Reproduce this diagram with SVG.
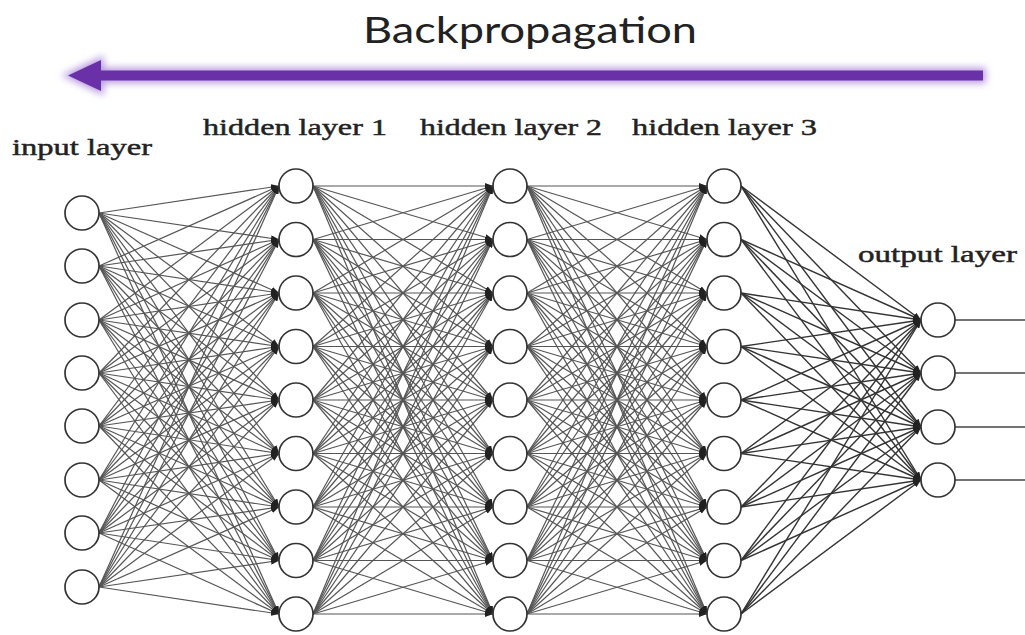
<svg xmlns="http://www.w3.org/2000/svg" width="1025" height="635" viewBox="0 0 1025 635">
<defs>
<marker id="ah" markerUnits="userSpaceOnUse" markerWidth="8" markerHeight="6" refX="8" refY="3" orient="auto">
<path d="M0,0 L8,3 L0,6 z" fill="#222"/>
</marker>
<filter id="glow" x="-5%" y="-80%" width="110%" height="260%">
<feGaussianBlur stdDeviation="3.5"/>
</filter>
<style>
.e path{stroke:#555;stroke-width:1.2;fill:none;marker-end:url(#ah)}
.e4 path{stroke:#333;stroke-width:1.4}
.n circle{fill:#fff;stroke:#333;stroke-width:1.7}
.lbl{font-family:"Liberation Serif","Times New Roman",serif;font-size:24px;fill:#222;stroke:#222;stroke-width:0.45}
.title{font-family:"Lato","Open Sans",sans-serif;font-size:36px;fill:#222}
.out{stroke:#444;stroke-width:1.4}
</style>
</defs>
<rect width="1025" height="635" fill="#fff"/>
<text class="title" x="363" y="43" textLength="334" lengthAdjust="spacingAndGlyphs">Backpropagation</text>
<g id="backprop-arrow">
<path d="M68 75.5 L101 60 L101 70.5 L983 70.5 L983 80.5 L101 80.5 L101 91 Z" fill="#a07cd0" stroke="#c0a4e4" stroke-width="6" filter="url(#glow)"/>
<path d="M68 75.5 L101 60 L101 70.5 L983 70.5 L983 80.5 L101 80.5 L101 91 Z" fill="#6a30a8"/>
</g>
<text class="lbl" x="12" y="155" textLength="140" lengthAdjust="spacingAndGlyphs">input layer</text>
<text class="lbl" x="203" y="135" textLength="184" lengthAdjust="spacingAndGlyphs">hidden layer 1</text>
<text class="lbl" x="420" y="135" textLength="182" lengthAdjust="spacingAndGlyphs">hidden layer 2</text>
<text class="lbl" x="632" y="135" textLength="185" lengthAdjust="spacingAndGlyphs">hidden layer 3</text>
<text class="lbl" x="858" y="262" textLength="159" lengthAdjust="spacingAndGlyphs">output layer</text>
<g id="connectors">
<g class="e">
<path d="M99 213L279 186"/><path d="M99 213L279 239.5"/><path d="M99 213L279 293"/><path d="M99 213L279 346.5"/><path d="M99 213L279 400"/><path d="M99 213L279 453.5"/><path d="M99 213L279 507"/><path d="M99 213L279 560.5"/><path d="M99 213L279 614"/>
<path d="M99 266L279 186"/><path d="M99 266L279 239.5"/><path d="M99 266L279 293"/><path d="M99 266L279 346.5"/><path d="M99 266L279 400"/><path d="M99 266L279 453.5"/><path d="M99 266L279 507"/><path d="M99 266L279 560.5"/><path d="M99 266L279 614"/>
<path d="M99 320L279 186"/><path d="M99 320L279 239.5"/><path d="M99 320L279 293"/><path d="M99 320L279 346.5"/><path d="M99 320L279 400"/><path d="M99 320L279 453.5"/><path d="M99 320L279 507"/><path d="M99 320L279 560.5"/><path d="M99 320L279 614"/>
<path d="M99 373L279 186"/><path d="M99 373L279 239.5"/><path d="M99 373L279 293"/><path d="M99 373L279 346.5"/><path d="M99 373L279 400"/><path d="M99 373L279 453.5"/><path d="M99 373L279 507"/><path d="M99 373L279 560.5"/><path d="M99 373L279 614"/>
<path d="M99 426L279 186"/><path d="M99 426L279 239.5"/><path d="M99 426L279 293"/><path d="M99 426L279 346.5"/><path d="M99 426L279 400"/><path d="M99 426L279 453.5"/><path d="M99 426L279 507"/><path d="M99 426L279 560.5"/><path d="M99 426L279 614"/>
<path d="M99 480L279 186"/><path d="M99 480L279 239.5"/><path d="M99 480L279 293"/><path d="M99 480L279 346.5"/><path d="M99 480L279 400"/><path d="M99 480L279 453.5"/><path d="M99 480L279 507"/><path d="M99 480L279 560.5"/><path d="M99 480L279 614"/>
<path d="M99 533L279 186"/><path d="M99 533L279 239.5"/><path d="M99 533L279 293"/><path d="M99 533L279 346.5"/><path d="M99 533L279 400"/><path d="M99 533L279 453.5"/><path d="M99 533L279 507"/><path d="M99 533L279 560.5"/><path d="M99 533L279 614"/>
<path d="M99 587L279 186"/><path d="M99 587L279 239.5"/><path d="M99 587L279 293"/><path d="M99 587L279 346.5"/><path d="M99 587L279 400"/><path d="M99 587L279 453.5"/><path d="M99 587L279 507"/><path d="M99 587L279 560.5"/><path d="M99 587L279 614"/>
</g>
<g class="e">
<path d="M313 186L493 186"/><path d="M313 186L493 239.5"/><path d="M313 186L493 293"/><path d="M313 186L493 346.5"/><path d="M313 186L493 400"/><path d="M313 186L493 453.5"/><path d="M313 186L493 507"/><path d="M313 186L493 560.5"/><path d="M313 186L493 614"/>
<path d="M313 239.5L493 186"/><path d="M313 239.5L493 239.5"/><path d="M313 239.5L493 293"/><path d="M313 239.5L493 346.5"/><path d="M313 239.5L493 400"/><path d="M313 239.5L493 453.5"/><path d="M313 239.5L493 507"/><path d="M313 239.5L493 560.5"/><path d="M313 239.5L493 614"/>
<path d="M313 293L493 186"/><path d="M313 293L493 239.5"/><path d="M313 293L493 293"/><path d="M313 293L493 346.5"/><path d="M313 293L493 400"/><path d="M313 293L493 453.5"/><path d="M313 293L493 507"/><path d="M313 293L493 560.5"/><path d="M313 293L493 614"/>
<path d="M313 346.5L493 186"/><path d="M313 346.5L493 239.5"/><path d="M313 346.5L493 293"/><path d="M313 346.5L493 346.5"/><path d="M313 346.5L493 400"/><path d="M313 346.5L493 453.5"/><path d="M313 346.5L493 507"/><path d="M313 346.5L493 560.5"/><path d="M313 346.5L493 614"/>
<path d="M313 400L493 186"/><path d="M313 400L493 239.5"/><path d="M313 400L493 293"/><path d="M313 400L493 346.5"/><path d="M313 400L493 400"/><path d="M313 400L493 453.5"/><path d="M313 400L493 507"/><path d="M313 400L493 560.5"/><path d="M313 400L493 614"/>
<path d="M313 453.5L493 186"/><path d="M313 453.5L493 239.5"/><path d="M313 453.5L493 293"/><path d="M313 453.5L493 346.5"/><path d="M313 453.5L493 400"/><path d="M313 453.5L493 453.5"/><path d="M313 453.5L493 507"/><path d="M313 453.5L493 560.5"/><path d="M313 453.5L493 614"/>
<path d="M313 507L493 186"/><path d="M313 507L493 239.5"/><path d="M313 507L493 293"/><path d="M313 507L493 346.5"/><path d="M313 507L493 400"/><path d="M313 507L493 453.5"/><path d="M313 507L493 507"/><path d="M313 507L493 560.5"/><path d="M313 507L493 614"/>
<path d="M313 560.5L493 186"/><path d="M313 560.5L493 239.5"/><path d="M313 560.5L493 293"/><path d="M313 560.5L493 346.5"/><path d="M313 560.5L493 400"/><path d="M313 560.5L493 453.5"/><path d="M313 560.5L493 507"/><path d="M313 560.5L493 560.5"/><path d="M313 560.5L493 614"/>
<path d="M313 614L493 186"/><path d="M313 614L493 239.5"/><path d="M313 614L493 293"/><path d="M313 614L493 346.5"/><path d="M313 614L493 400"/><path d="M313 614L493 453.5"/><path d="M313 614L493 507"/><path d="M313 614L493 560.5"/><path d="M313 614L493 614"/>
</g>
<g class="e">
<path d="M527 186L707 186"/><path d="M527 186L707 239.5"/><path d="M527 186L707 293"/><path d="M527 186L707 346.5"/><path d="M527 186L707 400"/><path d="M527 186L707 453.5"/><path d="M527 186L707 507"/><path d="M527 186L707 560.5"/><path d="M527 186L707 614"/>
<path d="M527 239.5L707 186"/><path d="M527 239.5L707 239.5"/><path d="M527 239.5L707 293"/><path d="M527 239.5L707 346.5"/><path d="M527 239.5L707 400"/><path d="M527 239.5L707 453.5"/><path d="M527 239.5L707 507"/><path d="M527 239.5L707 560.5"/><path d="M527 239.5L707 614"/>
<path d="M527 293L707 186"/><path d="M527 293L707 239.5"/><path d="M527 293L707 293"/><path d="M527 293L707 346.5"/><path d="M527 293L707 400"/><path d="M527 293L707 453.5"/><path d="M527 293L707 507"/><path d="M527 293L707 560.5"/><path d="M527 293L707 614"/>
<path d="M527 346.5L707 186"/><path d="M527 346.5L707 239.5"/><path d="M527 346.5L707 293"/><path d="M527 346.5L707 346.5"/><path d="M527 346.5L707 400"/><path d="M527 346.5L707 453.5"/><path d="M527 346.5L707 507"/><path d="M527 346.5L707 560.5"/><path d="M527 346.5L707 614"/>
<path d="M527 400L707 186"/><path d="M527 400L707 239.5"/><path d="M527 400L707 293"/><path d="M527 400L707 346.5"/><path d="M527 400L707 400"/><path d="M527 400L707 453.5"/><path d="M527 400L707 507"/><path d="M527 400L707 560.5"/><path d="M527 400L707 614"/>
<path d="M527 453.5L707 186"/><path d="M527 453.5L707 239.5"/><path d="M527 453.5L707 293"/><path d="M527 453.5L707 346.5"/><path d="M527 453.5L707 400"/><path d="M527 453.5L707 453.5"/><path d="M527 453.5L707 507"/><path d="M527 453.5L707 560.5"/><path d="M527 453.5L707 614"/>
<path d="M527 507L707 186"/><path d="M527 507L707 239.5"/><path d="M527 507L707 293"/><path d="M527 507L707 346.5"/><path d="M527 507L707 400"/><path d="M527 507L707 453.5"/><path d="M527 507L707 507"/><path d="M527 507L707 560.5"/><path d="M527 507L707 614"/>
<path d="M527 560.5L707 186"/><path d="M527 560.5L707 239.5"/><path d="M527 560.5L707 293"/><path d="M527 560.5L707 346.5"/><path d="M527 560.5L707 400"/><path d="M527 560.5L707 453.5"/><path d="M527 560.5L707 507"/><path d="M527 560.5L707 560.5"/><path d="M527 560.5L707 614"/>
<path d="M527 614L707 186"/><path d="M527 614L707 239.5"/><path d="M527 614L707 293"/><path d="M527 614L707 346.5"/><path d="M527 614L707 400"/><path d="M527 614L707 453.5"/><path d="M527 614L707 507"/><path d="M527 614L707 560.5"/><path d="M527 614L707 614"/>
</g>
<g class="e e4">
<path d="M741 186L921 320"/><path d="M741 186L921 373"/><path d="M741 186L921 427"/><path d="M741 186L921 480"/>
<path d="M741 239.5L921 320"/><path d="M741 239.5L921 373"/><path d="M741 239.5L921 427"/><path d="M741 239.5L921 480"/>
<path d="M741 293L921 320"/><path d="M741 293L921 373"/><path d="M741 293L921 427"/><path d="M741 293L921 480"/>
<path d="M741 346.5L921 320"/><path d="M741 346.5L921 373"/><path d="M741 346.5L921 427"/><path d="M741 346.5L921 480"/>
<path d="M741 400L921 320"/><path d="M741 400L921 373"/><path d="M741 400L921 427"/><path d="M741 400L921 480"/>
<path d="M741 453.5L921 320"/><path d="M741 453.5L921 373"/><path d="M741 453.5L921 427"/><path d="M741 453.5L921 480"/>
<path d="M741 507L921 320"/><path d="M741 507L921 373"/><path d="M741 507L921 427"/><path d="M741 507L921 480"/>
<path d="M741 560.5L921 320"/><path d="M741 560.5L921 373"/><path d="M741 560.5L921 427"/><path d="M741 560.5L921 480"/>
<path d="M741 614L921 320"/><path d="M741 614L921 373"/><path d="M741 614L921 427"/><path d="M741 614L921 480"/>
</g>
<g>
<line class="out" x1="955" y1="320" x2="1025" y2="320"/><line class="out" x1="955" y1="373" x2="1025" y2="373"/><line class="out" x1="955" y1="427" x2="1025" y2="427"/><line class="out" x1="955" y1="480" x2="1025" y2="480"/>
</g>
</g>
<g id="input-layer" class="n">
<circle cx="82" cy="213" r="17"/><circle cx="82" cy="266" r="17"/><circle cx="82" cy="320" r="17"/><circle cx="82" cy="373" r="17"/><circle cx="82" cy="426" r="17"/><circle cx="82" cy="480" r="17"/><circle cx="82" cy="533" r="17"/><circle cx="82" cy="587" r="17"/>
</g>
<g id="hidden-layer-1" class="n">
<circle cx="296" cy="186" r="17"/><circle cx="296" cy="239.5" r="17"/><circle cx="296" cy="293" r="17"/><circle cx="296" cy="346.5" r="17"/><circle cx="296" cy="400" r="17"/><circle cx="296" cy="453.5" r="17"/><circle cx="296" cy="507" r="17"/><circle cx="296" cy="560.5" r="17"/><circle cx="296" cy="614" r="17"/>
</g>
<g id="hidden-layer-2" class="n">
<circle cx="510" cy="186" r="17"/><circle cx="510" cy="239.5" r="17"/><circle cx="510" cy="293" r="17"/><circle cx="510" cy="346.5" r="17"/><circle cx="510" cy="400" r="17"/><circle cx="510" cy="453.5" r="17"/><circle cx="510" cy="507" r="17"/><circle cx="510" cy="560.5" r="17"/><circle cx="510" cy="614" r="17"/>
</g>
<g id="hidden-layer-3" class="n">
<circle cx="724" cy="186" r="17"/><circle cx="724" cy="239.5" r="17"/><circle cx="724" cy="293" r="17"/><circle cx="724" cy="346.5" r="17"/><circle cx="724" cy="400" r="17"/><circle cx="724" cy="453.5" r="17"/><circle cx="724" cy="507" r="17"/><circle cx="724" cy="560.5" r="17"/><circle cx="724" cy="614" r="17"/>
</g>
<g id="output-layer" class="n">
<circle cx="938" cy="320" r="17"/><circle cx="938" cy="373" r="17"/><circle cx="938" cy="427" r="17"/><circle cx="938" cy="480" r="17"/>
</g>
</svg>
